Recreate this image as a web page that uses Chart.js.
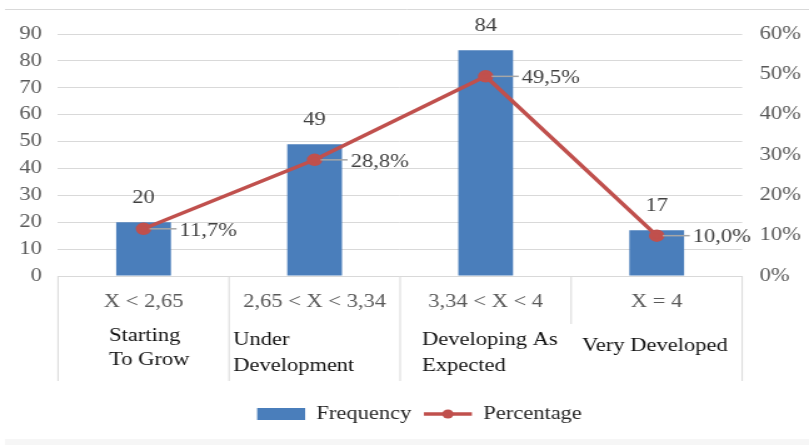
<!DOCTYPE html>
<html>
<head>
<meta charset="utf-8">
<script src="https://cdn.jsdelivr.net/npm/chart.js@4.4.1/dist/chart.umd.min.js"></script>
<style>
  html, body { margin: 0; background: #fff; }
</style>
</head>
<body>
<!-- the reference image is stretched sideways, so the canvas is too -->
<canvas id="chart" width="647" height="445" style="width:809px;height:445px"></canvas>
<script>
// data
const categories = ["X < 2,65", "2,65 < X < 3,34", "3,34 < X < 4", "X = 4"];
const descriptions = [["Starting", "To Grow"], ["Under", "Development"], ["Developing As", "Expected"], ["Very Developed"]];
const frequency = [20, 49, 84, 17];
const percentage = [11.7, 28.8, 49.5, 10.0];
const leftTicks = [0, 10, 20, 30, 40, 50, 60, 70, 80, 90];
const rightTicks = [0, 10, 20, 30, 40, 50, 60];

const S = 1.25; // page px per canvas px, horizontally
const serif = "'Liberation Serif', 'Times New Roman', serif";
Chart.defaults.font.family = serif;
Chart.defaults.font.size = 18;

const fmtPct = (v) => v.toFixed(1).replace(".", ",") + "%";

// labels, separators, legend marker etc.
const decor = {
  id: "decor",
  afterLayout(chart) {
    // legend sits a bit right of centre in the reference
    chart.legend.left += 12;
    chart.legend.right += 12;
  },
  beforeDraw(chart) {
    const { ctx, width } = chart;
    ctx.save();
    ctx.fillStyle = "#fff";
    ctx.fillRect(0, 0, width, chart.height);
    ctx.strokeStyle = "#d9d9d9";
    ctx.lineWidth = 1;
    ctx.beginPath();
    ctx.moveTo(5 / S, 9.5);
    ctx.lineTo(width, 9.5);
    ctx.stroke();
    ctx.fillStyle = "#f6f6f6";
    ctx.fillRect(5 / S, 439, width, 6);
    ctx.restore();
  },
  afterDraw(chart) {
    const { ctx } = chart;
    const xs = chart.scales.x;
    const half = (xs.getPixelForValue(1) - xs.getPixelForValue(0)) / 2;
    const n = categories.length;
    ctx.save();

    // category separators below the axis
    ctx.strokeStyle = "#d9d9d9";
    ctx.lineWidth = 1;
    for (let i = 0; i <= n; i++) {
      const x = i < n ? xs.getPixelForValue(i) - half : xs.getPixelForValue(n - 1) + half;
      ctx.beginPath();
      ctx.moveTo(x, xs.top);
      ctx.lineTo(x, 381);
      ctx.stroke();
    }
    // text box of the last description hides part of a separator
    ctx.fillStyle = "#fff";
    ctx.fillRect(565 / S, 324, (738 - 565) / S, 60);

    // descriptions under the ranges
    const descPos = [
      { dx: 51, base: [341, 365] },
      { dx: 4, base: [345, 371] },
      { dx: 22, base: [345, 371] },
      { dx: 11, base: [351] },
    ];
    ctx.fillStyle = "#111";
    ctx.font = "18px " + serif;
    ctx.textAlign = "left";
    ctx.textBaseline = "alphabetic";
    descriptions.forEach((lines, i) => {
      const left = xs.getPixelForValue(i) - half + descPos[i].dx / S;
      lines.forEach((t, j) => ctx.fillText(t, left, descPos[i].base[j]));
    });

    // bar value labels
    ctx.fillStyle = "#404040";
    ctx.textAlign = "center";
    ctx.textBaseline = "middle";
    chart.getDatasetMeta(0).data.forEach((el, i) => {
      ctx.fillText(String(frequency[i]), el.x, el.y - 24);
    });

    // percentage labels with leader lines
    ctx.textAlign = "left";
    chart.getDatasetMeta(1).data.forEach((el, i) => {
      ctx.strokeStyle = "#a6a6a6";
      ctx.lineWidth = 1.5;
      ctx.beginPath();
      ctx.moveTo(el.x + 6 / S, el.y);
      ctx.lineTo(el.x + 33 / S, el.y);
      ctx.stroke();
      ctx.fillText(fmtPct(percentage[i]), el.x + 36 / S, el.y + 2);
    });

    // legend marker for the line series
    const hb = chart.legend.legendHitBoxes[1];
    if (hb) {
      const bw = chart.legend.options.labels.boxWidth;
      const cy = hb.top + 9;
      ctx.strokeStyle = "#c0504d";
      ctx.lineWidth = 3.5;
      ctx.beginPath();
      ctx.moveTo(hb.left, cy);
      ctx.lineTo(hb.left + bw, cy);
      ctx.stroke();
      ctx.fillStyle = "#c0504d";
      ctx.beginPath();
      ctx.arc(hb.left + bw / 2, cy, 4.5, 0, Math.PI * 2);
      ctx.fill();
    }
    ctx.restore();
  },
};

const chart = new Chart(document.getElementById("chart"), {
  type: "bar",
  data: {
    labels: categories,
    datasets: [
      {
        label: "Frequency",
        data: frequency,
        backgroundColor: "#4a7ebb",
        yAxisID: "y",
        order: 1,
        barPercentage: 0.32,
        categoryPercentage: 1,
      },
      {
        type: "line",
        label: "Percentage",
        data: percentage,
        yAxisID: "y1",
        order: 0,
        borderColor: "#c0504d",
        backgroundColor: "#c0504d",
        borderWidth: 3.5,
        pointRadius: 4.5,
        pointBackgroundColor: "#c0504d",
        pointBorderColor: "#c0504d",
        tension: 0,
      },
    ],
  },
  options: {
    responsive: false,
    animation: false,
    events: [],
    layout: { padding: { top: 34, bottom: 12, left: 0, right: 0 } },
    plugins: {
      tooltip: { enabled: false },
      legend: {
        position: "bottom",
        labels: {
          color: "#262626",
          boxWidth: 48 / S,
          boxHeight: 12,
          padding: 10,
          sort: (a, b) => a.datasetIndex - b.datasetIndex,
          generateLabels: (ch) =>
            Chart.defaults.plugins.legend.labels.generateLabels(ch).map((it) =>
              it.datasetIndex === 1
                ? Object.assign(it, { fillStyle: "rgba(0,0,0,0)", strokeStyle: "rgba(0,0,0,0)", lineWidth: 0 })
                : it
            ),
        },
      },
    },
    scales: {
      x: {
        grid: { display: false, drawTicks: false },
        border: { display: false },
        ticks: { color: "#595959", padding: 15, maxRotation: 0, autoSkip: false },
        afterFit: (s) => { s.height = 119; },
      },
      y: {
        position: "left",
        min: leftTicks[0],
        max: leftTicks[leftTicks.length - 1],
        ticks: { stepSize: leftTicks[1] - leftTicks[0], padding: 13, color: "#595959" },
        grid: { color: "#d9d9d9", drawTicks: false },
        border: { display: false },
        afterFit: (s) => { s.width = 58 / S; },
      },
      y1: {
        position: "right",
        min: rightTicks[0],
        max: rightTicks[rightTicks.length - 1],
        ticks: {
          stepSize: rightTicks[1] - rightTicks[0],
          padding: 14,
          color: "#595959",
          callback: (v) => v + "%",
        },
        grid: { display: false, drawTicks: false },
        border: { display: false },
        afterFit: (s) => { s.width = 647 - 742 / S; },
      },
    },
  },
  plugins: [decor],
});
</script>
</body>
</html>
